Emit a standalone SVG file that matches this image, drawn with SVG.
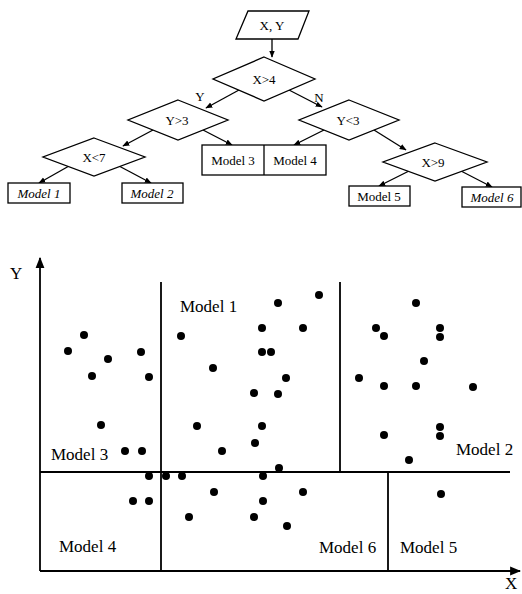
<svg xmlns="http://www.w3.org/2000/svg" width="522" height="594" viewBox="0 0 522 594">
<defs>
<style>
.s{fill:#fff;stroke:#000;stroke-width:1.3}
.t{font-family:"Liberation Serif",serif;font-size:13px;fill:#000;text-anchor:middle}
.i{font-style:italic}
.e{stroke:#000;stroke-width:1.3;fill:none}
.l{stroke:#000;stroke-width:1.8;fill:none}
.p{font-family:"Liberation Serif",serif;font-size:17px;fill:#000}
.d{fill:#000}
</style>
<marker id="a" viewBox="0 0 10 10" refX="9" refY="5" markerWidth="7" markerHeight="7" orient="auto" markerUnits="userSpaceOnUse"><path d="M0,1 L10,5 L0,9 Z" fill="#000"/></marker>
<marker id="ax" viewBox="0 0 10 10" refX="9" refY="5" markerWidth="11" markerHeight="11" orient="auto" markerUnits="userSpaceOnUse"><path d="M0,1 L10,5 L0,9 Z" fill="#000"/></marker>
</defs>
<g id="connectors">
<line class="e" x1="272" y1="39" x2="272" y2="57" marker-end="url(#a)"/>
<line class="e" x1="239" y1="90" x2="206" y2="108" marker-end="url(#a)"/>
<line class="e" x1="289" y1="90" x2="322" y2="107" marker-end="url(#a)"/>
<line class="e" x1="153" y1="130" x2="123" y2="146" marker-end="url(#a)"/>
<line class="e" x1="203" y1="130" x2="232" y2="145" marker-end="url(#a)"/>
<line class="e" x1="324" y1="130" x2="294" y2="145" marker-end="url(#a)"/>
<line class="e" x1="374" y1="130" x2="406" y2="150" marker-end="url(#a)"/>
<line class="e" x1="69" y1="166" x2="39" y2="183" marker-end="url(#a)"/>
<line class="e" x1="119" y1="166" x2="151" y2="183" marker-end="url(#a)"/>
<line class="e" x1="409" y1="171" x2="379" y2="186" marker-end="url(#a)"/>
<line class="e" x1="461" y1="171" x2="492" y2="187" marker-end="url(#a)"/>
<text class="t" x="200" y="101">Y</text>
<text class="t" x="319" y="102">N</text>
</g>
<g id="xy"><polygon class="s" points="248,11 309,11 298,39 236,39"/><text class="t" x="272" y="30">X, Y</text></g>
<g id="x4"><polygon class="s" points="264,57 315,79 264,101 213,79"/><text class="t" x="264" y="84">X&gt;4</text></g>
<g id="y3a"><polygon class="s" points="178,100 228,120 178,140 128,120"/><text class="t" x="177" y="125">Y&gt;3</text></g>
<g id="y3b"><polygon class="s" points="349,100 399,120 349,140 299,120"/><text class="t" x="348" y="125">Y&lt;3</text></g>
<g id="x7"><polygon class="s" points="94,138 145,157 94,176 43,157"/><text class="t" x="94" y="162">X&lt;7</text></g>
<g id="x9"><polygon class="s" points="435,143 487,162 435,181 383,162"/><text class="t" x="433" y="167">X&gt;9</text></g>
<g id="m34"><rect class="s" x="202" y="145" width="124" height="30"/><line class="e" x1="264" y1="145" x2="264" y2="175"/><text class="t" x="233" y="165">Model 3</text><text class="t" x="295" y="165">Model 4</text></g>
<g id="m1"><rect class="s" x="8" y="183" width="62" height="20"/><text class="t i" x="39" y="198">Model 1</text></g>
<g id="m2"><rect class="s" x="122" y="183" width="61" height="20" stroke-width="1.8"/><text class="t i" x="152" y="198">Model 2</text></g>
<g id="m5"><rect class="s" x="349" y="186" width="61" height="20"/><text class="t" x="379" y="201">Model 5</text></g>
<g id="m6"><rect class="s" x="462" y="187" width="59" height="20" stroke-width="1.8"/><text class="t i" x="492" y="202">Model 6</text></g>
<g id="plot">
<line class="l" x1="40" y1="571" x2="40" y2="258" marker-end="url(#ax)"/>
<line class="l" x1="40" y1="571" x2="520" y2="571" marker-end="url(#ax)"/>
<line class="l" x1="161" y1="282" x2="161" y2="571"/>
<line class="l" x1="340" y1="282" x2="340" y2="472"/>
<line class="l" x1="40" y1="472" x2="510" y2="472"/>
<line class="l" x1="388" y1="472" x2="388" y2="571"/>
<text class="p" x="10" y="279">Y</text>
<text class="p" x="505" y="589">X</text>
<text class="p" x="180" y="312">Model 1</text>
<text class="p" x="51" y="460">Model 3</text>
<text class="p" x="456" y="455">Model 2</text>
<text class="p" x="59" y="552">Model 4</text>
<text class="p" x="319" y="553">Model 6</text>
<text class="p" x="400" y="553">Model 5</text>
<g class="d">
<circle cx="84" cy="335" r="4"/><circle cx="68" cy="351" r="4"/><circle cx="108" cy="359" r="4"/><circle cx="141" cy="352" r="4"/>
<circle cx="92" cy="376" r="4"/><circle cx="149" cy="377" r="4"/><circle cx="101" cy="425" r="4"/><circle cx="125" cy="451" r="4"/>
<circle cx="142" cy="451" r="4"/><circle cx="149" cy="476" r="4"/><circle cx="133" cy="501" r="4"/><circle cx="149" cy="501" r="4"/>
<circle cx="181" cy="336" r="4"/><circle cx="213" cy="368" r="4"/><circle cx="197" cy="426" r="4"/><circle cx="222" cy="451" r="4"/>
<circle cx="166" cy="476" r="4"/><circle cx="182" cy="476" r="4"/><circle cx="214" cy="492" r="4"/><circle cx="189" cy="517" r="4"/>
<circle cx="319" cy="295" r="4"/><circle cx="278" cy="303" r="4"/><circle cx="262" cy="328" r="4"/><circle cx="303" cy="328" r="4"/>
<circle cx="262" cy="352" r="4"/><circle cx="271" cy="352" r="4"/><circle cx="286" cy="378" r="4"/><circle cx="254" cy="393" r="4"/>
<circle cx="278" cy="394" r="4"/><circle cx="262" cy="426" r="4"/><circle cx="255" cy="443" r="4"/><circle cx="279" cy="468" r="4"/>
<circle cx="263" cy="476" r="4"/><circle cx="303" cy="492" r="4"/><circle cx="263" cy="501" r="4"/><circle cx="254" cy="517" r="4"/>
<circle cx="287" cy="526" r="4"/><circle cx="416" cy="303" r="4"/><circle cx="376" cy="328" r="4"/><circle cx="384" cy="336" r="4"/>
<circle cx="440" cy="328" r="4"/><circle cx="440" cy="337" r="4"/><circle cx="424" cy="361" r="4"/><circle cx="359" cy="378" r="4"/>
<circle cx="384" cy="386" r="4"/><circle cx="416" cy="386" r="4"/><circle cx="473" cy="387" r="4"/><circle cx="440" cy="427" r="4"/>
<circle cx="440" cy="436" r="4"/><circle cx="384" cy="435" r="4"/><circle cx="409" cy="460" r="4"/><circle cx="441" cy="494" r="4"/>
</g>
</g>
</svg>
